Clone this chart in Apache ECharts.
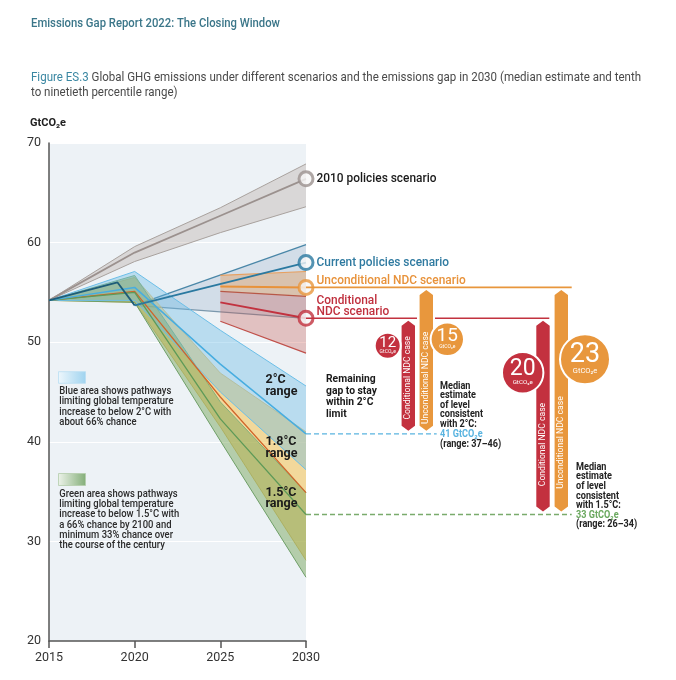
<!DOCTYPE html>
<html><head><meta charset="utf-8">
<script src="https://cdn.jsdelivr.net/npm/echarts@6.0.0/dist/echarts.min.js"></script>
<style>html,body{margin:0;padding:0;background:#fff;}#c{width:676px;height:680px;}</style>
</head><body><div id="c"></div>
<script>
// ---- data ----
const years = [2015, 2020, 2025, 2030];
const xTicks = [2015, 2020, 2025, 2030];
const yTicks = [20, 30, 40, 50, 60, 70];
const pol2010Hi  = [54.2, 59.6, 63.5, 67.9];
const pol2010Med = [54.2, 59.0, 62.7, 66.4];
const pol2010Lo  = [54.2, 58.1, 61.0, 63.6];
const deg2Hi  = [54.2, 57.1, 51.2, 45.6];
const deg2Med = [54.2, 55.5, 47.8, 40.8];
const deg2Lo  = [54.2, 54.2, 45.0, 37.2];
const deg18Hi  = [54.2, 56.5, 46.9, 41.0];
const deg18Med = [54.2, 55.1, 44.5, 34.9];
const deg18Lo  = [54.2, 54.0, 41.5, 28.1];
const deg15Hi  = [54.2, 56.7, 44.0, 34.9];
const deg15Med = [54.2, 55.0, 42.3, 32.7];
const deg15Lo  = [54.2, 54.0, 40.1, 26.4];
const histYears = [2015, 2019, 2020];
const histVals  = [54.2, 56.0, 53.7];
const curYears = [2020, 2030];
const curHi  = [53.7, 59.8];
const curMed = [53.7, 58.0];
const curLo  = [53.7, 52.4];
const ndcYears = [2025, 2030];
const uncHi  = [56.7, 57.1];
const uncMed = [55.6, 55.5];
const uncLo  = [55.1, 54.6];
const conHi  = [55.1, 54.6];
const conMed = [54.0, 52.4];
const conLo  = [52.1, 48.9];
const gapValues = [12, 15, 20, 23];
const target2 = 41, range2 = '37–46';
const target15 = 33, range15 = '26–34';

const FF = 'Roboto, "Noto Sans", sans-serif';
const last = a => a[a.length - 1];

function band(name, xs, lo, hi, fill, hiEdge, loEdge, w) {
  return {
    type: 'custom', name, z: 2, silent: true,
    data: xs.map((x, i) => [x, lo[i], hi[i]]),
    encode: { x: 0, y: [1, 2] },
    renderItem(params, api) {
      if (params.dataIndex !== 0) return null;
      const top = xs.map((x, i) => api.coord([x, hi[i]]));
      const bot = xs.map((x, i) => api.coord([x, lo[i]]));
      const ch = [{ type: 'polygon', shape: { points: top.concat(bot.slice().reverse()) }, style: { fill } }];
      if (hiEdge) ch.push({ type: 'polyline', shape: { points: top }, style: { stroke: hiEdge, lineWidth: w, fill: null } });
      if (loEdge) ch.push({ type: 'polyline', shape: { points: bot }, style: { stroke: loEdge, lineWidth: w, fill: null } });
      return { type: 'group', children: ch };
    }
  };
}
function line(name, xs, ys, color, width) {
  return {
    type: 'line', name, z: 3, silent: true, symbol: 'none',
    data: xs.map((x, i) => [x, ys[i]]),
    lineStyle: { color, width }, itemStyle: { color }
  };
}
function endPt(y, color) {
  return { value: [2030, y], itemStyle: { color: '#f6f6f6', borderColor: color, borderWidth: 3 } };
}

const chart = echarts.init(document.getElementById('c'));
const option = {
  animation: false,
  grid: { left: 49, top: 143, width: 257, height: 498, show: true, backgroundColor: '#edf2f6', borderWidth: 0 },
  xAxis: {
    type: 'value', min: 2015, max: 2030, interval: 5,
    axisLine: { show: true, onZero: false, lineStyle: { color: '#555', width: 1.5 } },
    axisTick: { show: true, length: 7, lineStyle: { color: '#555', width: 1.5 } },
    axisLabel: { color: '#333', fontSize: 12.5, fontFamily: FF, margin: 10, formatter: v => xTicks.includes(v) ? String(v) : '' },
    splitLine: { show: false }
  },
  yAxis: {
    type: 'value', min: 20, max: 70, interval: 10,
    axisLine: { show: true, lineStyle: { color: '#555', width: 1.5 } },
    axisTick: { show: false },
    axisLabel: { color: '#333', fontSize: 12.5, fontFamily: FF, margin: 8, formatter: v => yTicks.includes(v) ? String(v) : '' },
    splitLine: { show: true, lineStyle: { color: '#ffffff', width: 1 } }
  },
  series: [
    band('2010 policies', years, pol2010Lo, pol2010Hi, 'rgba(175,160,150,0.32)', '#a9a29e', '#a9a29e', 1),
    band('Current policies', curYears, curLo, curHi, 'rgba(130,160,190,0.25)', '#4a87a8', '#7b98ad', 1.3),
    band('Unconditional NDC', ndcYears, uncLo, uncHi, 'rgba(230,150,80,0.38)', '#e7a060', '#b65a48', 1.2),
    band('Conditional NDC', ndcYears, conLo, conHi, 'rgba(200,80,70,0.3)', null, '#c0504a', 1.2),
    band('1.8°C', years, deg18Lo, deg18Hi, 'rgba(245,195,80,0.55)', '#e3bd66', '#d9b35a', 0.8),
    band('1.5°C', years, deg15Lo, deg15Hi, 'rgba(110,160,80,0.45)', '#82b07a', '#6f9f68', 1),
    band('2°C', years, deg2Lo, deg2Hi, 'rgba(100,185,230,0.38)', '#6cbfe8', '#6cbfe8', 1),
    line('2010 policies median', years, pol2010Med, '#9b918e', 1.8),
    line('1.8 median', years, deg18Med, '#d0652a', 1.3),
    line('1.5 median', years, deg15Med, '#5e9a58', 1.3),
    line('2 median', years, deg2Med, '#47ade0', 1.5),
    line('Historical', histYears, histVals, '#1e5d79', 1.8),
    line('Current median', curYears, curMed, '#2a79a0', 1.8),
    line('Unconditional median', ndcYears, uncMed, '#e8923a', 2),
    line('Conditional median', ndcYears, conMed, '#c2323f', 2),
    {
      type: 'scatter', z: 5, silent: true, symbol: 'circle', symbolSize: 14,
      data: [endPt(last(pol2010Med), '#9b918e'), endPt(last(curMed), '#2a79a0'),
             endPt(last(uncMed), '#e8963c'), endPt(last(conMed), '#c2323f')]
    }
  ]
};
chart.setOption(option);

// ---- annotations ----
const P = (x, y) => chart.convertToPixel({ gridIndex: 0 }, [x, y]);
const mctx = document.createElement('canvas').getContext('2d');
function fitScale(str, font, width) { mctx.font = font; return width / mctx.measureText(str).width; }
const G = [];
function txt(x, y, text, font, fill, align, extra) {
  const o = { type: 'text', x, y, z: 20, style: Object.assign({ text, font, fill, align: align || 'left', textAlign: align || 'left', verticalAlign: 'middle', textVerticalAlign: 'middle' }, extra || {}) };
  G.push(o); return o;
}
function lines(x, y0, lh, arr, font, fill, sx) {
  arr.forEach((s, i) => { const o = txt(x, y0 + i * lh, s, font, fill); if (sx) o.scaleX = sx; });
}

// Title & caption
const tFont = `500 12.5px ${FF}`;
const tStr = 'Emissions Gap Report 2022: The Closing Window';
const t = txt(31, 24, tStr, tFont, '#3b7689');
t.scaleX = fitScale(tStr, tFont, 249);
const cFont = `13px ${FF}`;
const c1 = 'Figure ES.3 Global GHG emissions under different scenarios and the emissions gap in 2030 (median estimate and tenth';
const cs = fitScale(c1, cFont, 610);
const cap1 = txt(31, 77.7, '{a|Figure ES.3} Global GHG emissions under different scenarios and the emissions gap in 2030 (median estimate and tenth', cFont, '#4a4a4a', 'left', { rich: { a: { fill: '#3a87a2', font: cFont } } });
cap1.scaleX = cs;
const cap2 = txt(31, 92.7, 'to ninetieth percentile range)', cFont, '#4a4a4a');
cap2.scaleX = cs;
txt(30, 123.5, 'GtCO₂e', `bold 11px ${FF}`, '#222');

// scenario labels
const x30 = P(2030, 50)[0];
const y2010 = P(2030, last(pol2010Med))[1];
const yCur = P(2030, last(curMed))[1];
const yUnc = P(2030, last(uncMed))[1];
const yCon = P(2030, last(conMed))[1];
const y2 = P(2030, last(deg2Med))[1];
const y15 = P(2030, last(deg15Med))[1];
const lf = `500 12.5px ${FF}`;
const ls = fitScale('2010 policies scenario', lf, 120);
[
  ['2010 policies scenario', y2010 + 0.5, '#1a1a1a'],
  ['Current policies scenario', yCur + 0.5, '#2f7aa0'],
  ['Unconditional NDC scenario', yUnc - 7, '#e8923a'],
  ['Conditional', yCon - 17, '#c0303e'],
  ['NDC scenario', yCon - 6.3, '#c0303e']
].forEach(a => { const o = txt(x30 + 10.5, a[1], a[0], lf, a[2]); o.scaleX = ls; });

// horizontal scenario lines
G.push({ type: 'line', z: 6, shape: { x1: x30, y1: yUnc, x2: 571.7, y2: yUnc }, style: { stroke: '#e8963c', lineWidth: 1.6 } });
G.push({ type: 'line', z: 6, shape: { x1: x30, y1: yCon, x2: 417, y2: yCon }, style: { stroke: '#c2323f', lineWidth: 1.6 } });
G.push({ type: 'line', z: 6, shape: { x1: 435, y1: yCon, x2: 549.3, y2: yCon }, style: { stroke: '#c2323f', lineWidth: 1.6 } });
// dashed target lines
G.push({ type: 'line', z: 6, shape: { x1: x30, y1: y2, x2: 436.7, y2: y2 }, style: { stroke: '#5ab4e0', lineWidth: 1.3, lineDash: [5, 3] } });
G.push({ type: 'line', z: 6, shape: { x1: x30, y1: y15, x2: 571.7, y2: y15 }, style: { stroke: '#7aab6c', lineWidth: 1.3, lineDash: [5, 3] } });

// arrows
function arrow(cx, top, bot, color, label, labelY) {
  const w = 13.4, s = 5;
  G.push({ type: 'polygon', z: 10, shape: { points: [[cx - w / 2, top + s], [cx, top], [cx + w / 2, top + s], [cx + w / 2, bot - s], [cx, bot], [cx - w / 2, bot - s]] }, style: { fill: color } });
  G.push({ type: 'text', x: cx, y: labelY, rotation: Math.PI / 2, z: 11, style: { text: label, fill: '#fff', font: `8.6px ${FF}`, align: 'center', textAlign: 'center', verticalAlign: 'middle', textVerticalAlign: 'middle' } });
}
const RED = '#c3313f', ORG = '#e8973d';
arrow(408.3, yCon + 2.5, y2 - 3, RED, 'Conditional NDC case', y2 - 56);
arrow(426.3, yUnc + 2.5, y2 - 3, ORG, 'Unconditional NDC case', y2 - 56);
arrow(543, yCon + 2.5, y15 - 3, RED, 'Conditional NDC case', y15 - 70);
arrow(561.3, yUnc + 2.5, y15 - 3, ORG, 'Unconditional NDC case', y15 - 72);

// badges
function badge(cx, cy, r, color, num, size) {
  G.push({ type: 'circle', z: 12, shape: { cx, cy, r }, style: { fill: color, stroke: '#fff', lineWidth: 2 } });
  G.push({ type: 'text', x: cx, y: cy - r * 0.17, z: 13, style: { text: String(num), fill: '#fff', font: `${size}px ${FF}`, align: 'center', textAlign: 'center', verticalAlign: 'middle', textVerticalAlign: 'middle' } });
  G.push({ type: 'text', x: cx, y: cy + r * 0.47, z: 13, style: { text: 'GtCO₂e', fill: '#fff', font: `${Math.max(5, r * 0.3)}px ${FF}`, align: 'center', textAlign: 'center', verticalAlign: 'middle', textVerticalAlign: 'middle' } });
}
badge(387.7, 345.7, 13, RED, gapValues[0], 15);
badge(447.3, 339.3, 16.7, ORG, gapValues[1], 19);
badge(522.7, 372.7, 20.7, RED, gapValues[2], 23);
badge(585, 359.3, 25, ORG, gapValues[3], 27);

// range labels inside plot
const rb = `bold 12.5px ${FF}`;
lines(265.5, 380.3, 12, ['2°C', 'range'], rb, '#1a1a1a');
lines(265.5, 442.3, 11.4, ['1.8°C', 'range'], rb, '#1a1a1a');
lines(265.5, 492.7, 11.4, ['1.5°C', 'range'], rb, '#1a1a1a');

// remaining gap text
const gapF = `bold 11.5px ${FF}`;
lines(326, 379.3, 11.6, ['Remaining', 'gap to stay', 'within 2°C', 'limit'], gapF, '#1a1a1a', fitScale('gap to stay', gapF, 51));
// median estimate texts
const mf = `bold 10px ${FF}`;
const ms = fitScale('consistent', mf, 43);
lines(440, 386, 9.6, ['Median', 'estimate', 'of level', 'consistent', 'with 2°C:'], mf, '#222', ms);
txt(440, 434, target2 + ' GtCO₂e', mf, '#5ab4e0').scaleX = ms;
txt(440, 444, '(range: ' + range2 + ')', mf, '#222').scaleX = ms;
lines(576, 467.3, 9.6, ['Median', 'estimate', 'of level', 'consistent', 'with 1.5°C:'], mf, '#222', ms);
txt(576, 515.3, target15 + ' GtCO₂e', mf, '#6aa85e').scaleX = ms;
txt(576, 524.7, '(range: ' + range15 + ')', mf, '#222').scaleX = ms;

// legend
G.push({ type: 'rect', z: 8, shape: { x: 58.5, y: 371.7, width: 27, height: 11.6 }, style: { fill: new echarts.graphic.LinearGradient(0, 0, 1, 0, [{ offset: 0, color: '#eef7fc' }, { offset: 1, color: '#9fd3ef' }]), stroke: '#b9def2', lineWidth: 0.8 } });
G.push({ type: 'rect', z: 8, shape: { x: 58.5, y: 473.5, width: 27, height: 12 }, style: { fill: new echarts.graphic.LinearGradient(0, 0, 1, 0, [{ offset: 0, color: '#edf3ea' }, { offset: 1, color: '#83ae78' }]), stroke: '#b4cdab', lineWidth: 0.8 } });
const gf = `500 10.8px ${FF}`;
const gs = fitScale('Blue area shows pathways', gf, 112);
lines(59.3, 391, 10.45, ['Blue area shows pathways', 'limiting global temperature', 'increase to below 2°C with', 'about 66% chance'], gf, '#2a2a2a', gs);
lines(59.3, 494, 10.35, ['Green area shows pathways', 'limiting global temperature', 'increase to below 1.5°C with', 'a 66% chance by 2100 and', 'minimum 33% chance over', 'the course of the century'], gf, '#2a2a2a', gs);

chart.setOption({ graphic: { elements: G } });
</script>
</body></html>
